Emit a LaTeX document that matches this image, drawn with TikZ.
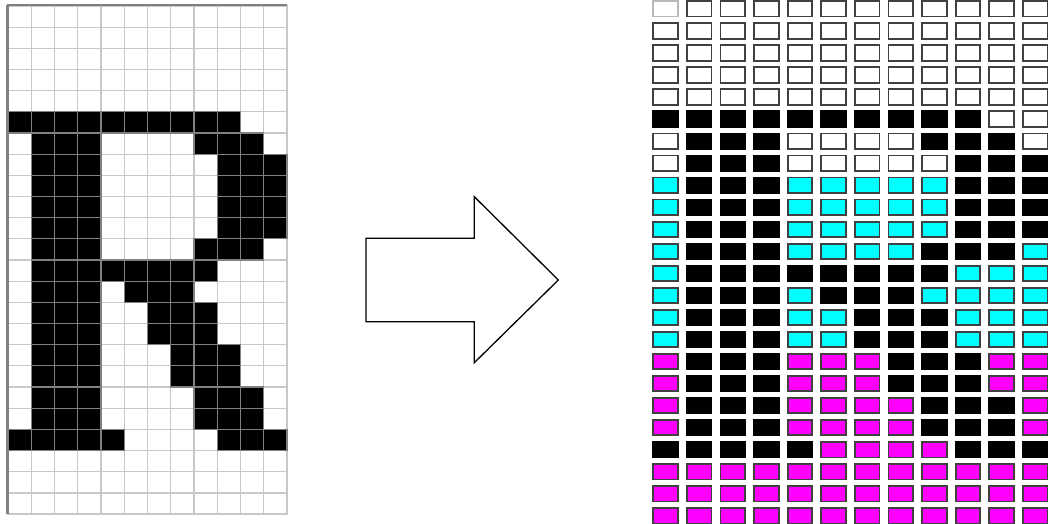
\documentclass[tikz,border=0pt]{standalone}
\definecolor{ccyan}{RGB}{0,255,255}
\definecolor{cmag}{RGB}{255,0,255}
\definecolor{glight}{RGB}{200,200,200}
\definecolor{gmid}{RGB}{128,128,128}
\definecolor{gdark}{RGB}{64,64,64}
\begin{document}
\begin{tikzpicture}[x=1pt,y=-1pt,
  lcell/.style={draw=glight,line width=1.2pt,fill=white},
  lblack/.style={draw=gmid,line width=1.2pt,fill=black},
  rbox/.style={draw=gdark,line width=1.8pt},
  rblack/.style={draw=black,line width=1.8pt,fill=black},
  bigarrow/.style={draw=black,line width=1.3pt,fill=white,line join=miter}]
\useasboundingbox (0,0) rectangle (1052,524);
\def\blackrows{5/{0,1,2,3,4,5,6,7,8,9},6/{1,2,3,8,9,10},7/{1,2,3,9,10,11},8/{1,2,3,9,10,11},9/{1,2,3,9,10,11},10/{1,2,3,9,10,11},11/{1,2,3,8,9,10},12/{1,2,3,4,5,6,7,8},13/{1,2,3,5,6,7},14/{1,2,3,6,7,8},15/{1,2,3,6,7,8},16/{1,2,3,7,8,9},17/{1,2,3,7,8,9},18/{1,2,3,8,9,10},19/{1,2,3,8,9,10},20/{0,1,2,3,4,9,10,11}}
% ---- left grid
\foreach \r in {0,...,23}{
  \foreach \c in {0,...,11}{
    \draw[lcell] ({8+23.25*\c},{6+21.17*\r}) rectangle ++(23.25,21.17);
  }
}
\foreach \r/\cols in \blackrows{
  \foreach \c in \cols{
    \draw[lblack] ({8+23.25*\c},{6+21.17*\r}) rectangle ++(23.25,21.17);
  }
}
\draw[gmid,line width=2pt] (7,5.5) -- (287,5.5);
\draw[gmid,line width=2.8pt] (7.5,5) -- (7.5,514);
% ---- arrow
\draw[bigarrow] (366,238.3) -- (474.3,238.3) -- (474.3,196.7) -- (558.3,280)
  -- (474.3,362.7) -- (474.3,321.7) -- (366,321.7) -- cycle;
% ---- right grid
\foreach \r in {0,...,23}{
  \foreach \c in {0,...,11}{
    \pgfmathsetmacro{\fc}{\r<8 ? "white" : (\r<16 ? "ccyan" : "cmag")}
    \draw[rbox,fill=\fc] ({653.2+33.6*\c},{1.2+22.04*\r}) rectangle ++(24.6,15.4);
  }
}
\draw[rbox,draw=gray!55,fill=white] (653.2,1.2) rectangle ++(24.6,15.4);
\foreach \r/\cols in \blackrows{
  \foreach \c in \cols{
    \draw[rblack] ({653.2+33.6*\c},{1.2+22.04*\r}) rectangle ++(24.6,15.4);
  }
}
\end{tikzpicture}
\end{document}
